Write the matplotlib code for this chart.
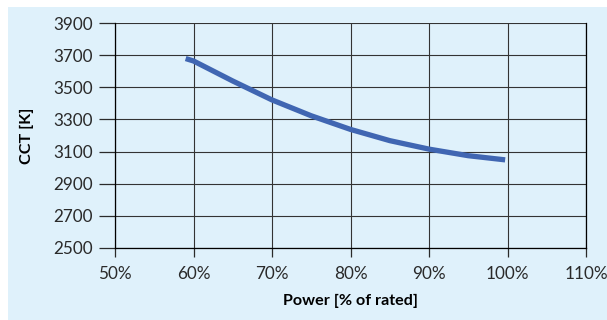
import matplotlib.pyplot as plt
from matplotlib.patches import Rectangle
from matplotlib.ticker import FuncFormatter

plt.rcParams['font.family'] = ['Lato', 'DejaVu Sans']

# Data
power = [59, 60, 65, 70, 75, 80, 85, 90, 95, 99.7]
cct = [3680, 3665, 3540, 3422, 3323, 3238, 3168, 3115, 3074, 3048]

x_ticks = [50, 60, 70, 80, 90, 100, 110]
y_ticks = [2500, 2700, 2900, 3100, 3300, 3500, 3700, 3900]

bg = '#DFF1FB'
W, H = 607, 320

fig = plt.figure(figsize=(W / 100, H / 100), dpi=100)
fig.patch.set_facecolor('white')
# light blue panel behind the chart
panel = Rectangle((8 / W, 0), 1 - 8 / W, 1 - 7 / H, transform=fig.transFigure,
                  facecolor=bg, edgecolor='none', zorder=-10)
fig.add_artist(panel)

ax = fig.add_axes([115 / W, 1 - 247.7 / H, (586 - 115) / W, (247.7 - 23.3) / H])
ax.set_zorder(1)
ax.set_facecolor(bg)

ax.plot(power, cct, color='#4066B2', linewidth=3.8, solid_capstyle='butt', zorder=3)

ax.set_xlim(50, 110)
ax.set_ylim(2500, 3900)
ax.set_xticks(x_ticks)
ax.set_yticks(y_ticks)
ax.xaxis.set_major_formatter(FuncFormatter(lambda v, p: f'{v:.0f}%'))

ax.grid(True, color='#333333', linewidth=0.8)
ax.set_axisbelow(True)
ax.spines['top'].set_visible(False)
for s in ['left', 'bottom', 'right']:
    ax.spines[s].set_color('black')
    ax.spines[s].set_linewidth(0.9)

ax.tick_params(axis='y', length=11.5, width=0.9, pad=4.5, labelsize=12.3, colors='#2a2a2a')
ax.tick_params(axis='x', length=6.5, width=0.9, pad=7, labelsize=12.3, colors='#2a2a2a')
for lbl in ax.get_xticklabels():
    lbl.set_clip_on(False)

ax.set_xlabel('Power [% of rated]', fontsize=11.6, fontweight='bold', labelpad=8)
ax.set_ylabel('CCT [K]', fontsize=11.6, fontweight='bold', labelpad=14)

fig.savefig('out.png', dpi=100)
